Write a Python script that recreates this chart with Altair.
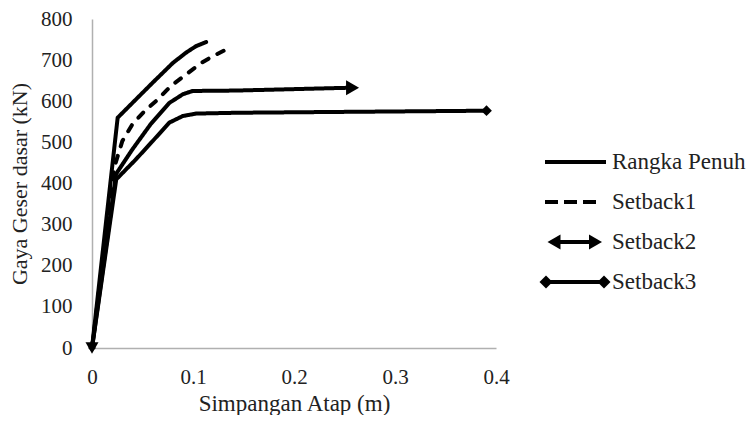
import altair as alt
import pandas as pd

FONT = "Liberation Serif, Times New Roman, serif"

series_names = ["Rangka Penuh", "Setback1", "Setback2", "Setback3"]

rp_x = [0, 0.0254, 0.06, 0.08, 0.093, 0.103, 0.113]
rp_y = [0, 560, 645, 693, 718, 734, 744]

s1_x = [0, 0.02, 0.022, 0.03, 0.04, 0.052, 0.065, 0.078, 0.093, 0.108, 0.12, 0.133]
s1_y = [0, 400, 439, 503, 544, 576, 604, 637, 665, 693, 710, 726]

s2_x = [0, 0.0238, 0.04, 0.058, 0.0766, 0.09, 0.0997, 0.1426, 0.258]
s2_y = [0, 423, 483, 544, 596, 617, 625, 626, 633]

s3_x = [0, 0.024, 0.0436, 0.06, 0.0766, 0.0898, 0.103, 0.1426, 0.3906]
s3_y = [0, 410, 459, 503, 548, 564, 570, 572, 577]

x_ticks = [0, 0.1, 0.2, 0.3, 0.4]
y_ticks = [0, 100, 200, 300, 400, 500, 600, 700, 800]

all_x = [rp_x, s1_x, s2_x, s3_x]
all_y = [rp_y, s1_y, s2_y, s3_y]

rows = []
for name, xs, ys in zip(series_names, all_x, all_y):
    for i, (xv, yv) in enumerate(zip(xs, ys)):
        rows.append({"series": name, "x": xv, "y": yv, "order": i})
df = pd.DataFrame(rows)

# end markers (Setback2 arrows, Setback3 diamonds)
markers = pd.DataFrame([
    {"x": s2_x[-1], "y": s2_y[-1], "kind": "arrow_end"},
    {"x": s2_x[0], "y": s2_y[0], "kind": "arrow_start"},
    {"x": s3_x[-1], "y": s3_y[-1], "kind": "diamond_end"},
    {"x": s3_x[0], "y": s3_y[0], "kind": "diamond_start"},
])

kinds = ["arrow_end", "arrow_start", "diamond_end", "diamond_start"]
dash_scale = alt.Scale(domain=series_names, range=[[1, 0], [7, 10], [1, 0], [1, 0]])
shape_scale = alt.Scale(domain=kinds, range=["triangle-right", "triangle-down", "diamond", "diamond"])
size_scale = alt.Scale(domain=kinds, range=[225, 60, 190, 50])

lines = alt.Chart(df).mark_line(color="black", strokeWidth=4, strokeCap="round",
                                strokeJoin="round", clip=False).encode(
    x=alt.X("x:Q", scale=alt.Scale(domain=[0, 0.4], nice=False),
            axis=alt.Axis(title="Simpangan Atap (m)", values=x_ticks, format="~g",
                          grid=False, ticks=False, domainColor="#b0b0b0", domainWidth=1.5,
                          labelFlush=False, labelPadding=18, titlePadding=5,
                          labelFontSize=21, titleFontSize=23)),
    y=alt.Y("y:Q", scale=alt.Scale(domain=[0, 800], nice=False),
            axis=alt.Axis(title="Gaya Geser dasar (kN)", values=y_ticks,
                          grid=False, ticks=False, domainColor="#b0b0b0", domainWidth=1.5,
                          labelFlush=False, labelPadding=20, titlePadding=9,
                          labelFontSize=21, titleFontSize=22)),
    strokeDash=alt.StrokeDash("series:N", scale=dash_scale, legend=None),
    detail="series:N",
    order="order:Q",
)

pts = alt.Chart(markers).mark_point(filled=True, color="black", opacity=1, clip=False).encode(
    x="x:Q",
    y="y:Q",
    shape=alt.Shape("kind:N", scale=shape_scale, legend=None),
    size=alt.Size("kind:N", scale=size_scale, legend=None),
)

main = alt.layer(lines, pts).properties(width=404, height=329)

# manual legend (one row per series)
leg_df = pd.DataFrame({"series": series_names, "row": [4.65 - i for i in range(len(series_names))]})
yenc = alt.Y("row:Q", scale=alt.Scale(domain=[0, 8.225]), axis=None)
base = alt.Chart(leg_df)


def only(name):
    return base.transform_filter(alt.datum.series == name)


leg_rp = only("Rangka Penuh").mark_rule(color="black", strokeWidth=4).encode(
    x=alt.value(35), x2=alt.value(96), y=yenc)
leg_s1 = only("Setback1").mark_rule(color="black", strokeWidth=4, strokeDash=[13, 6]).encode(
    x=alt.value(35), x2=alt.value(88), y=yenc)
leg_s2 = only("Setback2").mark_rule(color="black", strokeWidth=4).encode(
    x=alt.value(44), x2=alt.value(86), y=yenc)
leg_a1 = only("Setback2").mark_point(shape="triangle-right", filled=True, color="black",
                                     opacity=1, size=225).encode(x=alt.value(85.5), y=yenc)
leg_a2 = only("Setback2").mark_point(shape="triangle-left", filled=True, color="black",
                                     opacity=1, size=225).encode(x=alt.value(44), y=yenc)
leg_s3 = only("Setback3").mark_rule(color="black", strokeWidth=4).encode(
    x=alt.value(36), x2=alt.value(94), y=yenc)
leg_d1 = only("Setback3").mark_point(shape="diamond", filled=True, color="black",
                                     opacity=1, size=170).encode(x=alt.value(94), y=yenc)
leg_d2 = only("Setback3").mark_point(shape="diamond", filled=True, color="black",
                                     opacity=1, size=170).encode(x=alt.value(36), y=yenc)
leg_text = base.mark_text(align="left", baseline="middle", font=FONT, fontSize=23,
                          color="#222222").encode(x=alt.value(102), y=yenc, text="series:N")

legend = alt.layer(leg_rp, leg_s1, leg_s2, leg_a1, leg_a2, leg_s3, leg_d1, leg_d2,
                   leg_text).properties(width=130, height=329)

chart = alt.hconcat(main, legend, spacing=0).properties(padding=0).configure_view(
    stroke=None
).configure_axis(
    labelFont=FONT, titleFont=FONT,
    labelColor="#222222", titleColor="#222222", titleFontWeight="normal",
)

chart.save("out.html", embed_options={"renderer": "svg", "actions": False})
